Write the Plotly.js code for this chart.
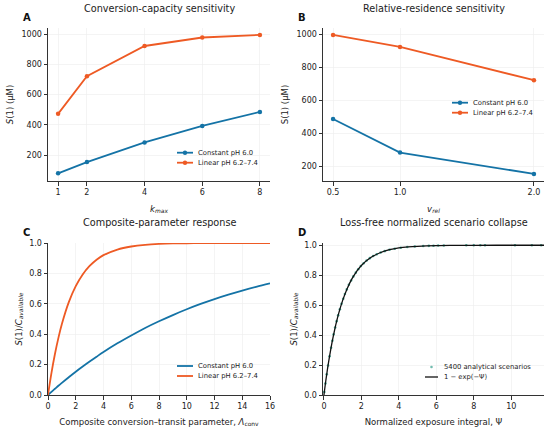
<!DOCTYPE html>
<html>
<head>
<meta charset="utf-8">
<script src="https://cdn.plot.ly/plotly-3.0.1.min.js"></script>
<style>html,body{margin:0;padding:0;background:#fff}#chart{width:550px;height:430px}</style>
</head>
<body>
<div id="chart"></div>
<script>
// ---- data ----
const kMax = [1, 2, 4, 6, 8];
const kConst = [80, 154, 284, 393, 486];
const kLinear = [473, 722, 922, 978, 995];

const vRel = [0.5, 1.0, 2.0];
const vRelTicks = ["0.5", "1.0", "2.0"];
const vConst = [486, 282, 153];
const vLinear = [995, 922, 721];

const lambdaConv = [0, 0.25, 0.5, 0.75, 1, 1.5, 2, 2.5, 3, 3.5, 4, 5, 6, 7, 8, 9, 10, 11, 12, 13, 14, 15, 16];
const cConst = [0, 0.021, 0.041, 0.061, 0.080, 0.117, 0.153, 0.187, 0.220, 0.252, 0.283, 0.340, 0.392, 0.441, 0.485, 0.526, 0.564, 0.599, 0.631, 0.660, 0.687, 0.712, 0.735];
const cLinear = [0, 0.146, 0.270, 0.376, 0.467, 0.611, 0.716, 0.793, 0.849, 0.890, 0.920, 0.957, 0.977, 0.988, 0.994, 0.997, 0.998, 0.999, 1.0, 1.0, 1.0, 1.0, 1.0];

const psiScen = [0.02, 0.08, 0.15, 0.22, 0.30, 0.38, 0.45, 0.52, 0.60, 0.68, 0.76, 0.85, 0.94, 1.03, 1.12, 1.22, 1.33, 1.45, 1.57, 1.70, 1.83, 1.97, 2.12, 2.28, 2.45, 2.63, 2.82, 3.03, 3.25, 3.50, 3.78, 4.10, 4.45, 4.85, 5.30, 5.60, 5.85, 6.10, 6.40, 7.60, 8.00, 8.35, 8.60, 10.2, 11.1, 11.6];
const sScen = [0.020, 0.077, 0.139, 0.197, 0.259, 0.316, 0.362, 0.405, 0.451, 0.493, 0.532, 0.573, 0.609, 0.643, 0.674, 0.705, 0.736, 0.765, 0.792, 0.817, 0.840, 0.861, 0.880, 0.898, 0.914, 0.928, 0.940, 0.952, 0.961, 0.970, 0.977, 0.983, 0.988, 0.992, 0.995, 0.996, 0.997, 0.998, 0.998, 0.9995, 0.9997, 0.9998, 0.9998, 1.0, 1.0, 1.0];

const psiRef = [0, 0.1, 0.25, 0.5, 0.75, 1, 1.25, 1.5, 1.75, 2, 2.5, 3, 3.5, 4, 4.5, 5, 6, 7, 8, 10, 11.75];
const sRef = [0, 0.095, 0.221, 0.393, 0.528, 0.632, 0.713, 0.777, 0.826, 0.865, 0.918, 0.950, 0.970, 0.982, 0.989, 0.993, 0.9975, 0.999, 0.9997, 1.0, 1.0];

const seriesNames = ["Constant pH 6.0", "Linear pH 6.2\u20137.4"];
const scenName = "5400 analytical scenarios";
const refName = "1 \u2212 exp(\u2212\u03a8)";
const panelTitles = ["Conversion-capacity sensitivity", "Relative-residence sensitivity", "Composite-parameter response", "Loss-free normalized scenario collapse"];
const panelLetters = ["A", "B", "C", "D"];

const colConst = "#1473a6";
const colLin = "#ee5a24";
const colScen = "#12907a";

// ---- layout helpers ----
const W = 550, H = 430;
const px = x => x / W;
const py = y => 1 - y / H;
const FONT = "DejaVu Sans";

const traces = [
  {x: kMax, y: kConst, name: seriesNames[0], mode: "lines+markers", xaxis: "x", yaxis: "y",
   line: {color: colConst, width: 1.8}, marker: {color: colConst, size: 4.5}},
  {x: kMax, y: kLinear, name: seriesNames[1], mode: "lines+markers", xaxis: "x", yaxis: "y",
   line: {color: colLin, width: 1.8}, marker: {color: colLin, size: 4.5}},
  {x: vRel, y: vConst, name: seriesNames[0], mode: "lines+markers", xaxis: "x2", yaxis: "y2",
   line: {color: colConst, width: 1.8}, marker: {color: colConst, size: 4.5}},
  {x: vRel, y: vLinear, name: seriesNames[1], mode: "lines+markers", xaxis: "x2", yaxis: "y2",
   line: {color: colLin, width: 1.8}, marker: {color: colLin, size: 4.5}},
  {x: lambdaConv, y: cConst, name: seriesNames[0], mode: "lines", xaxis: "x3", yaxis: "y3",
   line: {color: colConst, width: 1.8, shape: "spline"}},
  {x: lambdaConv, y: cLinear, name: seriesNames[1], mode: "lines", xaxis: "x3", yaxis: "y3",
   line: {color: colLin, width: 1.8, shape: "spline"}},
  {x: psiScen, y: sScen, name: scenName, mode: "markers", xaxis: "x4", yaxis: "y4",
   marker: {color: colScen, size: 2.6, opacity: 0.75}},
  {x: psiRef, y: sRef, name: refName, mode: "lines", xaxis: "x4", yaxis: "y4",
   line: {color: "#111", width: 1.3, shape: "spline"}}
];

function ax(domain, range, extra) {
  return Object.assign({
    domain: domain, range: range, showline: true, linecolor: "#333", linewidth: 1,
    ticks: "outside", ticklen: 3.5, tickwidth: 1, tickcolor: "#333",
    showgrid: true, gridcolor: "#ececec", gridwidth: 0.6, zeroline: false,
    tickfont: {family: FONT, size: 8, color: "#222"}, fixedrange: true
  }, extra);
}

const topY = [py(181), py(28)];
const botY = [py(395), py(243)];
const leftX = [px(48), px(270)];
const rightX = [px(323), px(544)];

const axTitleFont = {family: FONT, size: 8.5, color: "#222"};

// ---- manual legends ----
const shapes = [];
const annotations = [];
function legendLine(x0, x1, y, color, width) {
  shapes.push({type: "line", xref: "paper", yref: "paper", x0: px(x0), x1: px(x1), y0: py(y), y1: py(y),
    line: {color: color, width: width}});
}
function legendDot(cx, y, r, color, opacity) {
  shapes.push({type: "circle", xref: "paper", yref: "paper", x0: px(cx - r), x1: px(cx + r), y0: py(y + r), y1: py(y - r),
    fillcolor: color, line: {width: 0}, opacity: opacity});
}
function legendText(x, y, text) {
  annotations.push({text: text, x: px(x), y: py(y), xref: "paper", yref: "paper", xanchor: "left", yanchor: "middle",
    showarrow: false, font: {family: FONT, size: 6.8, color: "#222"}});
}
function lineMarkerLegend(x0, y0, withMarker) {
  const cols = [colConst, colLin];
  for (let i = 0; i < 2; i++) {
    const y = y0 + i * 10;
    legendLine(x0, x0 + 16, y, cols[i], 1.8);
    if (withMarker) legendDot(x0 + 8, y, 2.2, cols[i], 1);
    legendText(x0 + 19, y, seriesNames[i]);
  }
}
lineMarkerLegend(177, 152.7, true);
lineMarkerLegend(452, 102.7, true);
lineMarkerLegend(177, 366, false);
legendDot(431.5, 367, 1.3, colScen, 0.6);
legendText(442, 367, scenName);
legendLine(425, 438, 377, "#111", 1.3);
legendText(442, 377, refName);

// titles and panel letters
const titleX = [159, 433.5, 159, 433.5];
const titleY = [9, 9, 222, 222];
const letterX = [21, 296, 21, 296];
const letterY = [17, 17, 232, 232];
for (let i = 0; i < 4; i++) {
  annotations.push({text: panelTitles[i], x: px(titleX[i]), y: py(titleY[i]), xref: "paper", yref: "paper",
    xanchor: "center", yanchor: "middle", showarrow: false, font: {family: FONT, size: 9.7, color: "#222"}});
  annotations.push({text: "<b>" + panelLetters[i] + "</b>", x: px(letterX[i]), y: py(letterY[i]), xref: "paper", yref: "paper",
    xanchor: "left", yanchor: "middle", showarrow: false, font: {family: FONT, size: 10, color: "#111"}});
}

const layout = {
  width: W, height: H, margin: {l: 0, r: 0, t: 0, b: 0},
  paper_bgcolor: "#fff", plot_bgcolor: "#fff",
  font: {family: FONT, color: "#222"},
  showlegend: false,
  xaxis: ax(leftX, [0.65, 8.35], {anchor: "y", tickvals: kMax,
    title: {text: "<i>k</i><sub><i>max</i></sub>", font: axTitleFont, standoff: 9}}),
  yaxis: ax(topY, [29, 1041], {anchor: "x", tickvals: [200, 400, 600, 800, 1000],
    title: {text: "<i>S</i>(1) (\u03bcM)", font: axTitleFont, standoff: 6}}),
  xaxis2: ax(rightX, [0.425, 2.075], {anchor: "y2", tickvals: vRel, ticktext: vRelTicks,
    title: {text: "<i>v</i><sub><i>rel</i></sub>", font: axTitleFont, standoff: 9}}),
  yaxis2: ax(topY, [110, 1037], {anchor: "x2", tickvals: [200, 400, 600, 800, 1000],
    title: {text: "S(1) (\u03bcM)", font: axTitleFont, standoff: 6}}),
  xaxis3: ax(leftX, [0, 16], {anchor: "y3", dtick: 2, tick0: 0,
    title: {text: "Composite conversion\u2013transit parameter, <i>\u039b</i><sub>conv</sub>", font: axTitleFont, standoff: 8}}),
  yaxis3: ax(botY, [0, 1], {anchor: "x3", dtick: 0.2, tick0: 0, tickformat: ".1f",
    title: {text: "<i>S</i>(1)/<i>C</i><sub><i>available</i></sub>", font: axTitleFont, standoff: 5}}),
  xaxis4: ax(rightX, [-0.05, 11.75], {anchor: "y4", tickvals: [0, 2, 4, 6, 8, 10],
    title: {text: "Normalized exposure integral, \u03a8", font: axTitleFont, standoff: 8}}),
  yaxis4: ax(botY, [0, 1.015], {anchor: "x4", tickvals: [0, 0.2, 0.4, 0.6, 0.8, 1.0], tickformat: ".1f",
    title: {text: "<i>S</i>(1)/<i>C</i><sub><i>available</i></sub>", font: axTitleFont, standoff: 5}}),
  shapes: shapes,
  annotations: annotations
};

Plotly.newPlot("chart", traces, layout, {displayModeBar: false, staticPlot: true});
</script>
</body>
</html>
